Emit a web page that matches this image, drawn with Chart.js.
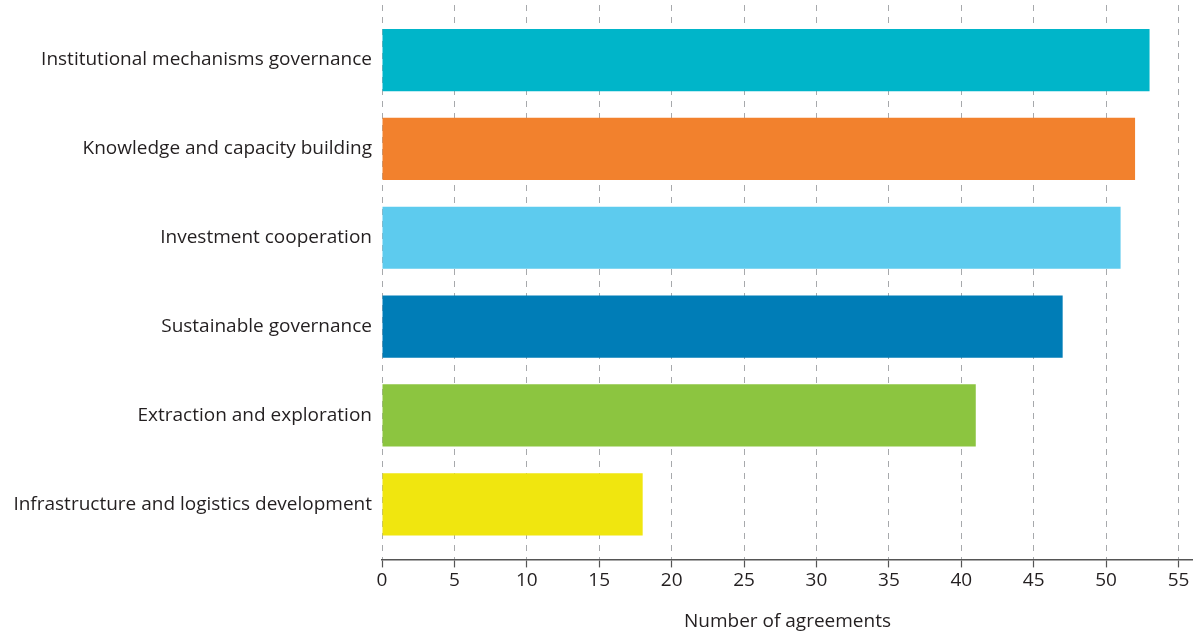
<!DOCTYPE html>
<html><head><meta charset="utf-8">
<script src="https://cdn.jsdelivr.net/npm/chart.js@4/dist/chart.umd.min.js"></script>
<style>html,body{margin:0;padding:0;background:#fff}#wrap{width:1193px;height:634px}</style>
</head><body><div id="wrap"><canvas id="c" width="1193" height="634"></canvas></div>
<script>
const categories = ["Institutional mechanisms governance","Knowledge and capacity building","Investment cooperation","Sustainable governance","Extraction and exploration","Infrastructure and logistics development"];
const agreements = [53, 52, 51, 47, 41, 18];
const barColors = ["#00B5C9","#F2812D","#5DCBEE","#007DB7","#8CC540","#F0E60F"];
const xTicks = [0,5,10,15,20,25,30,35,40,45,50,55];
const xTitle = "Number of agreements";

const FONT = "'Open Sans', sans-serif";
new Chart(document.getElementById('c'), {
  type: 'bar',
  data: {
    datasets: [{
      data: agreements.map((v,i)=>({x:v, y:i})),
      backgroundColor: barColors,
      borderWidth: 0,
      categoryPercentage: 1,
      barPercentage: 0.7
    }]
  },
  options: {
    indexAxis: 'y',
    responsive: false,
    animation: false,
    layout: {padding: {top: 5, right: 0, bottom: 1, left: 0}},
    plugins: {legend: {display: false}, tooltip: {enabled: false}},
    scales: {
      y: {
        type: 'linear',
        reverse: true,
        offset: false,
        min: -0.62, max: 5.62,
        afterFit: s => { s.width = 382; s.paddingTop = 0; s.paddingBottom = 0; },
        grid: {display: false, drawTicks: false},
        border: {display: false},
        ticks: {
          stepSize: 1, includeBounds: false, padding: 10, autoSkip: false,
          color: '#231f20', font: {family: FONT, size: 19},
          callback: v => categories[v] !== undefined ? categories[v] : ''
        }
      },
      x: {
        type: 'linear',
        min: 0, max: 56,
        afterBuildTicks: s => { s.ticks = xTicks.map(v => ({value: v})); },
        grid: {color: '#a7a9ac', lineWidth: 1, tickLength: 8, tickColor: '#555', tickBorderDash: [], tickWidth: 1.2},
        border: {display: true, color: '#555', width: 1.5, dash: [6,6]},
        ticks: {padding: 2, color: '#231f20', font: {family: FONT, size: 19}},
        title: {display: true, text: xTitle, color: '#231f20', font: {family: FONT, size: 19}, padding: {top: 16, bottom: 0}}
      }
    }
  }
});
</script></body></html>
